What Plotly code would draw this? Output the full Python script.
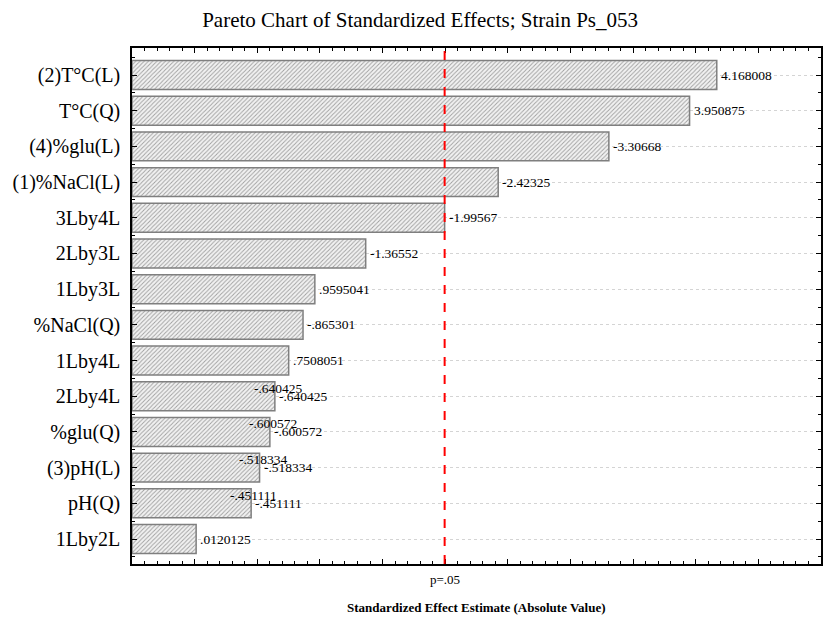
import plotly.graph_objects as go

# Effects in Pareto order (largest |t| first)
effects = ["(2)T°C(L)", "T°C(Q)", "(4)%glu(L)", "(1)%NaCl(L)", "3Lby4L", "2Lby3L",
           "1Lby3L", "%NaCl(Q)", "1Lby4L", "2Lby4L", "%glu(Q)", "(3)pH(L)",
           "pH(Q)", "1Lby2L"]
t_values = [4.168008, 3.950875, -3.30668, -2.42325, -1.99567, -1.36552,
            0.9595041, -0.865301, 0.7508051, -0.640425, -0.600572, -0.518334,
            -0.451111, 0.0120125]
value_labels = ["4.168008", "3.950875", "-3.30668", "-2.42325", "-1.99567", "-1.36552",
                ".9595041", "-.865301", ".7508051", "-.640425", "-.600572", "-.518334",
                "-.451111", ".0120125"]
# effects whose value label is printed a second time, offset above
repeated_labels = ["2Lby4L", "%glu(Q)", "(3)pH(L)", "pH(Q)"]
p_critical = 1.99567
x_min, x_max = -0.5, 5.0

abs_values = [abs(v) for v in t_values]
ypos = list(range(len(effects)))

serif = "Liberation Serif, Times New Roman, serif"

fig = go.Figure()
# bars are drawn from the left edge of the axis out to |t|
fig.add_trace(go.Bar(
    x=[v - x_min for v in abs_values], base=x_min, y=ypos, orientation="h", width=0.81,
    marker=dict(
        color="#f2f2f2",
        line=dict(color="#7f7f7f", width=1.5),
        pattern=dict(shape="/", fgcolor="#a0a0a0", bgcolor="#f2f2f2",
                     size=3, solidity=0.3, fillmode="replace"),
    ),
    hoverinfo="skip",
))

annotations = []
for name, y, v, lab in zip(effects, ypos, abs_values, value_labels):
    annotations.append(dict(x=v, y=y, xref="x", yref="y", text=lab, showarrow=False,
                            xanchor="left", yanchor="middle", xshift=2,
                            font=dict(family=serif, size=13.5, color="black")))
    if name in repeated_labels:
        annotations.append(dict(x=v, y=y, xref="x", yref="y", text=lab, showarrow=False,
                                xanchor="left", yanchor="middle", xshift=-23, yshift=8,
                                font=dict(family=serif, size=13.5, color="black")))

annotations.append(dict(x=p_critical, y=0, xref="x", yref="paper", text="p=.05",
                        showarrow=False, xanchor="center", yanchor="top", yshift=-6,
                        font=dict(family=serif, size=13, color="black")))
annotations.append(dict(x=0.5, y=0, xref="paper", yref="paper",
                        text="<b>Standardized Effect Estimate (Absolute Value)</b>",
                        showarrow=False, xanchor="center", yanchor="middle", yshift=-43,
                        font=dict(family=serif, size=13, color="black")))

fig.add_shape(type="line", x0=p_critical, x1=p_critical, y0=0, y1=1,
              xref="x", yref="paper", line=dict(color="#ff0000", width=2, dash="dash"))

fig.update_layout(
    width=827, height=617,
    margin=dict(l=132, r=4, t=48, b=53),
    paper_bgcolor="white", plot_bgcolor="white",
    showlegend=False,
    title=dict(text="Pareto Chart of Standardized Effects; Strain Ps_053",
               x=0.508, xref="container", xanchor="center",
               y=1 - 20 / 617, yref="container", yanchor="middle",
               font=dict(family=serif, size=21, color="black")),
    annotations=annotations,
    xaxis=dict(
        range=[x_min, x_max], showticklabels=False, showgrid=False, zeroline=False,
        tick0=0, dtick=0.5, ticks="inside", ticklen=5, tickcolor="black",
        showline=True, linecolor="black", linewidth=1.5, mirror="ticks",
        minor=dict(dtick=0.1, ticks="inside", ticklen=3, tickcolor="black"),
    ),
    yaxis=dict(
        range=[13.70, -0.757], tickvals=ypos, ticktext=effects,
        tickfont=dict(family=serif, size=20, color="black"),
        ticks="inside", ticklen=5, tickcolor="black", ticklabelstandoff=6,
        showline=True, linecolor="black", linewidth=1.5, mirror="ticks",
        showgrid=True, gridcolor="#d4d4d4", griddash="dot", gridwidth=1,
        zeroline=False,
        minor=dict(tickvals=[i + 0.5 for i in range(-1, len(effects))],
                   ticks="inside", ticklen=3, tickcolor="black", showgrid=False),
    ),
)

fig.write_html("out.html")
